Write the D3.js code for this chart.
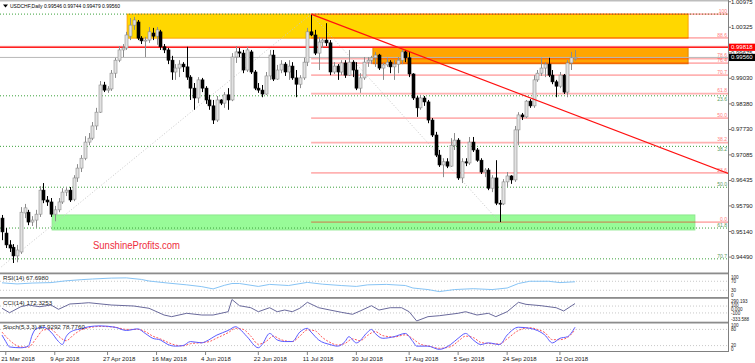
<!DOCTYPE html>
<html>
<head>
<meta charset="utf-8">
<script src="https://d3js.org/d3.v7.min.js"></script>
<style>
  body { margin: 0; background: #fff; }
  svg { display: block; font-family: "Liberation Sans", Arial, sans-serif; }
</style>
</head>
<body>
<script>
// daily bars, index 0 = 20 Mar 2018 ... 152 = 18 Oct 2018
var open = [0.9548,0.9510,0.9480,0.9474,0.9452,0.9462,0.9561,0.9563,0.9538,0.9543,
  0.9558,0.9619,0.9594,0.9589,0.9558,0.9569,0.9589,0.9614,0.9619,0.9596,
  0.9650,0.9675,0.9700,0.9741,0.9751,0.9782,0.9817,0.9886,0.9873,0.9876,
  0.9916,0.9949,0.9975,0.9980,1.0010,1.0038,1.0046,1.0005,0.9998,1.0000,
  1.0018,1.0010,1.0021,0.9983,0.9975,0.9949,0.9919,0.9929,0.9939,0.9932,
  0.9906,0.9878,0.9853,0.9899,0.9878,0.9848,0.9833,0.9797,0.9848,0.9840,
  0.9861,0.9848,0.9957,0.9970,0.9967,0.9924,0.9970,0.9919,0.9878,0.9873,
  0.9863,0.9909,0.9962,0.9901,0.9924,0.9939,0.9919,0.9934,0.9904,0.9888,
  0.9904,0.9944,1.0021,1.0013,0.9967,0.9995,1.0000,0.9993,0.9919,0.9934,
  0.9919,0.9942,0.9911,0.9944,0.9924,0.9878,0.9904,0.9944,0.9949,0.9955,
  0.9962,0.9929,0.9937,0.9944,0.9932,0.9939,0.9949,0.9970,0.9955,0.9914,
  0.9853,0.9828,0.9853,0.9843,0.9797,0.9759,0.9708,0.9683,0.9691,0.9680,
  0.9733,0.9746,0.9650,0.9691,0.9688,0.9741,0.9721,0.9695,0.9665,0.9670,
  0.9624,0.9650,0.9586,0.9584,0.9640,0.9655,0.9645,0.9772,0.9810,0.9805,
  0.9845,0.9833,0.9899,0.9916,0.9929,0.9939,0.9911,0.9894,0.9883,0.9911,
  0.9868,0.9942,0.99546];
var high = [0.9556,0.9523,0.9492,0.9482,0.9480,0.9576,0.9584,0.9569,0.9553,0.9569,
  0.9629,0.9637,0.9604,0.9599,0.9579,0.9599,0.9624,0.9627,0.9627,0.9657,
  0.9685,0.9708,0.9756,0.9764,0.9792,0.9828,0.9896,0.9894,0.9883,0.9924,
  0.9955,0.9985,0.9990,1.0021,1.0056,1.0059,1.0051,1.0010,1.0008,1.0033,
  1.0031,1.0033,1.0026,0.9990,0.9980,0.9960,0.9939,0.9949,0.9944,0.9983,
  0.9911,0.9891,0.9906,0.9904,0.9883,0.9861,0.9848,0.9858,0.9850,0.9868,
  0.9878,0.9967,0.9985,0.9980,0.9975,0.9983,0.9975,0.9924,0.9891,0.9886,
  0.9919,0.9975,0.9975,0.9937,0.9949,0.9944,0.9949,0.9944,0.9924,0.9911,
  0.9955,1.0031,1.0066,1.0026,1.0008,1.0005,1.0043,1.0000,0.9944,0.9939,
  0.9949,0.9949,0.9975,0.9949,0.9944,0.9916,0.9957,0.9957,0.9960,0.9970,
  0.9965,0.9942,0.9955,0.9949,0.9949,0.9957,0.9975,0.9975,0.9970,0.9916,
  0.9858,0.9861,0.9858,0.9848,0.9802,0.9767,0.9721,0.9700,0.9700,0.9751,
  0.9764,0.9751,0.9700,0.9700,0.9754,0.9754,0.9726,0.9700,0.9675,0.9675,
  0.9657,0.9695,0.9594,0.9647,0.9665,0.9657,0.9782,0.9817,0.9815,0.9848,
  0.9850,0.9911,0.9924,0.9955,0.9944,0.9955,0.9924,0.9899,0.9919,0.9914,
  0.9949,0.9970,0.99744];
var low = [0.9492,0.9472,0.9462,0.9434,0.9436,0.9457,0.9548,0.9530,0.9528,0.9523,
  0.9551,0.9586,0.9579,0.9551,0.9540,0.9563,0.9584,0.9604,0.9589,0.9591,
  0.9640,0.9665,0.9695,0.9733,0.9746,0.9772,0.9815,0.9868,0.9866,0.9871,
  0.9904,0.9944,0.9957,0.9975,1.0000,1.0026,1.0000,0.9990,0.9957,0.9993,
  1.0000,0.9988,0.9975,0.9967,0.9939,0.9899,0.9899,0.9906,0.9919,0.9899,
  0.9848,0.9823,0.9840,0.9868,0.9838,0.9823,0.9787,0.9792,0.9835,0.9828,
  0.9823,0.9845,0.9942,0.9957,0.9916,0.9919,0.9914,0.9873,0.9866,0.9855,
  0.9861,0.9899,0.9896,0.9899,0.9916,0.9909,0.9899,0.9899,0.9855,0.9878,
  0.9899,0.9934,1.0010,0.9962,0.9924,0.9980,0.9985,0.9911,0.9914,0.9899,
  0.9911,0.9904,0.9909,0.9906,0.9873,0.9866,0.9899,0.9932,0.9939,0.9932,
  0.9924,0.9899,0.9932,0.9916,0.9899,0.9916,0.9939,0.9944,0.9906,0.9848,
  0.9805,0.9823,0.9833,0.9789,0.9754,0.9703,0.9678,0.9652,0.9675,0.9678,
  0.9721,0.9645,0.9637,0.9680,0.9683,0.9716,0.9691,0.9660,0.9652,0.9619,
  0.9614,0.9581,0.9538,0.9581,0.9627,0.9635,0.9640,0.9733,0.9797,0.9802,
  0.9828,0.9828,0.9894,0.9909,0.9906,0.9906,0.9888,0.9855,0.9878,0.9863,
  0.9855,0.9924,0.99479];
var close = [0.9513,0.9480,0.9472,0.9452,0.9467,0.9563,0.9574,0.9538,0.9543,0.9558,
  0.9619,0.9594,0.9589,0.9558,0.9569,0.9589,0.9614,0.9619,0.9594,0.9650,
  0.9675,0.9700,0.9741,0.9751,0.9782,0.9817,0.9886,0.9873,0.9876,0.9916,
  0.9949,0.9975,0.9980,1.0013,1.0038,1.0051,1.0005,0.9998,1.0000,1.0021,
  1.0010,1.0026,0.9983,0.9975,0.9949,0.9919,0.9929,0.9939,0.9932,0.9906,
  0.9878,0.9853,0.9899,0.9878,0.9848,0.9833,0.9797,0.9848,0.9840,0.9861,
  0.9848,0.9957,0.9970,0.9967,0.9924,0.9975,0.9919,0.9878,0.9873,0.9863,
  0.9909,0.9962,0.9901,0.9924,0.9939,0.9919,0.9934,0.9904,0.9888,0.9904,
  0.9944,1.0021,1.0013,0.9967,0.9995,1.0000,0.9993,0.9919,0.9934,0.9919,
  0.9942,0.9911,0.9944,0.9924,0.9878,0.9904,0.9944,0.9949,0.9955,0.9962,
  0.9929,0.9937,0.9944,0.9932,0.9939,0.9949,0.9970,0.9955,0.9914,0.9853,
  0.9828,0.9853,0.9843,0.9797,0.9759,0.9708,0.9683,0.9691,0.9680,0.9733,
  0.9746,0.9650,0.9691,0.9688,0.9741,0.9721,0.9695,0.9665,0.9670,0.9624,
  0.9650,0.9586,0.9584,0.9640,0.9655,0.9645,0.9772,0.9810,0.9805,0.9845,
  0.9833,0.9899,0.9916,0.9929,0.9939,0.9911,0.9894,0.9883,0.9911,0.9868,
  0.9942,0.9955,0.99560];

var dateIdx = [1, 14, 28, 41, 54, 68, 81, 94, 108, 121, 134, 148];
var dateLabels = ["21 Mar 2018", "9 Apr 2018", "27 Apr 2018", "16 May 2018", "4 Jun 2018", "22 Jun 2018",
  "11 Jul 2018", "30 Jul 2018", "17 Aug 2018", "5 Sep 2018", "24 Sep 2018", "12 Oct 2018"];
var priceTicks = [1.00975, 1.00325, 0.99675, 0.99030, 0.98380, 0.97730, 0.97085, 0.96435, 0.95790, 0.95140, 0.94490];

// indicator readings, [bar index, value]
var rsi = [[0,63],[4,58],[8,62],[13,64],[17,72],[21,77],[24,80],[29,84],[33,85],[37,78],[39,71],[44,62],
  [49,54],[53,46],[56,36],[59,52],[61,60],[63,60],[68,47],[71,56],[76,51],[81,65],[85,57],[90,51],[94,47],
  [97,54],[102,56],[107,51],[109,40],[113,33],[116,24],[120,33],[125,37],[130,33],[134,40],[137,60],
  [140,70],[145,70],[148,64],[152,67.698]];
var cci = [[0,35],[2,-93],[5,81],[7,130],[10,81],[13,130],[15,6],[18,160],[21,180],[23,197],[29,130],[35,101],
  [39,35],[43,-160],[45,-208],[49,-110],[53,-160],[56,-160],[60,-64],[61,290],[63,110],[66,52],[68,-64],
  [71,52],[73,-64],[75,-15],[77,-64],[79,35],[81,209],[84,52],[87,-15],[90,-81],[93,-139],[95,-43],[98,110],
  [100,-15],[103,52],[106,52],[108,-64],[110,-333],[113,-208],[116,-180],[121,-110],[123,-64],[126,-160],
  [129,-110],[131,-208],[134,-64],[137,209],[139,150],[143,110],[147,52],[149,-43],[152,172.3]];
var stochMain = [[0,59],[1,35],[2,15],[5,12],[7,18],[8,59],[9,82],[11,88],[13,70],[15,35],[16,24],[17,53],
  [19,76],[21,82],[23,90],[26,93],[30,88],[33,76],[36,82],[38,65],[40,47],[42,41],[44,24],[46,18],[48,20],
  [50,35],[53,30],[54,35],[57,59],[60,76],[62,90],[63,82],[65,53],[68,12],[69,24],[71,65],[73,41],[75,35],
  [77,35],[79,70],[81,84],[82,70],[84,41],[87,24],[89,18],[91,35],[92,53],[94,30],[97,70],[98,80],[99,65],
  [101,47],[104,53],[107,65],[109,35],[110,18],[113,18],[116,6],[119,24],[121,47],[123,65],[125,41],
  [127,24],[129,30],[132,24],[134,59],[137,88],[140,84],[142,76],[144,59],[146,30],[148,47],[150,53],[152,87.93]];
var stochSignal = [[0,70],[2,40],[5,15],[7,14],[9,45],[11,78],[13,80],[15,55],[17,38],[19,60],[21,78],[23,86],
  [26,91],[30,88],[33,80],[36,80],[38,72],[40,55],[42,45],[44,32],[46,22],[48,19],[50,27],[53,31],[55,35],
  [57,48],[60,68],[62,84],[64,80],[66,55],[68,25],[70,35],[72,55],[74,42],[77,35],[79,55],[81,78],[83,75],
  [85,50],[87,32],[89,22],[91,28],[93,45],[95,38],[97,58],[99,72],[101,57],[104,52],[107,60],[109,45],
  [111,25],[113,19],[116,10],[119,16],[121,36],[123,55],[125,50],[127,32],[129,28],[132,26],[134,45],
  [137,76],[140,86],[142,80],[144,68],[146,42],[148,42],[150,50],[152,78.78]];

// drawn objects
var zoneFrom = [33.2, 98.4, 13.3], zoneTo = [182, 182, 183.8];
var zoneTop = [1.0066, 0.99818, 0.9556], zoneBottom = [1.0005, 0.9940, 0.9518];
var zoneFill = ["#ffd700", "#ffa500", "#98fb98"], zoneStroke = ["#ffa500", "#e08a00", "#8fe88f"];
var redFib = [0, 23.6, 38.2, 50, 61.8, 70.7, 76.4, 78.6, 88.6, 100];
var redFibLow = 0.9538, redFibHigh = 1.0066, redFibFrom = 82, redFibLowIdx = 132;
var greenFib = [0, 23.6, 38.2, 50, 61.8, 70.7];
var greenFibHigh = 1.0066, greenFibLow = 0.9187, greenDiag = [[-2, 0.9410], [82, 1.0066]];
var trendIdx = [82, 193], trendPrice = [1.0066, 0.9660];
var resistance = 0.99818, lastPrice = 0.99560;

var W = 755, H = 363, axisX = 728;
var svg = d3.select("body").append("svg").attr("width", W).attr("height", H);

var x = d3.scaleLinear().domain([0, 152]).range([2, 575]);
var y = d3.scaleLinear().domain([0.94490, 1.00975]).range([257.1, 1.7]);

svg.append("clipPath").attr("id", "mainClip").append("rect")
  .attr("x", 0).attr("y", 0).attr("width", axisX).attr("height", 272);
var main = svg.append("g").attr("clip-path", "url(#mainClip)");

// boxes
zoneFill.forEach(function (f, i) {
  main.append("rect")
    .attr("x", x(zoneFrom[i])).attr("y", y(zoneTop[i]))
    .attr("width", x(zoneTo[i]) - x(zoneFrom[i]))
    .attr("height", y(zoneBottom[i]) - y(zoneTop[i]))
    .attr("fill", f).attr("stroke", zoneStroke[i]).attr("stroke-width", 1);
});

// green fib (dotted, full width)
greenFib.forEach(function (l) {
  var p = greenFibHigh - (greenFibHigh - greenFibLow) * l / 100;
  main.append("line").attr("x1", 0).attr("x2", axisX).attr("y1", y(p)).attr("y2", y(p))
    .attr("stroke", "#3aa03a").attr("stroke-width", 1).attr("stroke-dasharray", "1,2");
  if (l > 0) {
    // 23.6 and 38.2 sit right under red labels, so they go below their line
    var ty = (l === 23.6 || l === 38.2) ? y(p) + 5 : y(p) - 1;
    main.append("text").attr("x", axisX - 1).attr("y", ty).attr("text-anchor", "end")
      .attr("font-size", 5).attr("fill", "#5a9a5a").text(l.toFixed(1));
  }
});

// red fib
redFib.forEach(function (l) {
  var p = redFibLow + (redFibHigh - redFibLow) * l / 100;
  main.append("line").attr("x1", x(redFibFrom)).attr("x2", axisX).attr("y1", y(p)).attr("y2", y(p))
    .attr("stroke", "#ff0000").attr("stroke-opacity", 0.3).attr("stroke-width", 1.8);
  main.append("text").attr("x", axisX - 1).attr("y", y(p) - 1.3).attr("text-anchor", "end")
    .attr("font-size", 5).attr("fill", "#ff7b7b").text(l === 100 ? "100" : l.toFixed(1));
});

// fib diagonals
main.append("line")
  .attr("x1", x(greenDiag[0][0])).attr("y1", y(greenDiag[0][1]))
  .attr("x2", x(greenDiag[1][0])).attr("y2", y(greenDiag[1][1]))
  .attr("stroke", "#c8c8c8").attr("stroke-dasharray", "1,2");
main.append("line")
  .attr("x1", x(redFibFrom)).attr("y1", y(redFibHigh))
  .attr("x2", x(redFibLowIdx)).attr("y2", y(redFibLow))
  .attr("stroke", "#c8c8c8").attr("stroke-dasharray", "1,2");

// price lines
main.append("line").attr("x1", 0).attr("x2", axisX).attr("y1", y(lastPrice)).attr("y2", y(lastPrice))
  .attr("stroke", "#b8b8b8").attr("stroke-width", 1);
main.append("line").attr("x1", 0).attr("x2", axisX).attr("y1", y(resistance) - 1).attr("y2", y(resistance) - 1)
  .attr("stroke", "#ffb0b0").attr("stroke-width", 1);
main.append("line").attr("x1", 0).attr("x2", axisX).attr("y1", y(resistance)).attr("y2", y(resistance))
  .attr("stroke", "#ff2020").attr("stroke-width", 1.4);

// candles
var bars = d3.range(open.length);
var cg = main.append("g");
cg.selectAll("line.wick").data(bars).enter().append("line")
  .attr("x1", function (i) { return Math.round(x(i)) + 0.5; })
  .attr("x2", function (i) { return Math.round(x(i)) + 0.5; })
  .attr("y1", function (i) { return y(high[i]); })
  .attr("y2", function (i) { return y(low[i]); })
  .attr("stroke", function (i) { return close[i] >= open[i] ? "#8c8c8c" : "#000"; })
  .attr("stroke-width", 1);
cg.selectAll("rect.body").data(bars).enter().append("rect")
  .attr("x", function (i) { return Math.round(x(i)) - 1; })
  .attr("width", 3)
  .attr("y", function (i) { return y(Math.max(open[i], close[i])); })
  .attr("height", function (i) { return Math.max(1, Math.abs(y(open[i]) - y(close[i]))); })
  .attr("fill", function (i) { return close[i] >= open[i] ? "#e2e2e2" : "#000"; })
  .attr("stroke", function (i) { return close[i] >= open[i] ? "#8c8c8c" : "#000"; })
  .attr("stroke-width", 0.6);

// trend line
main.append("line")
  .attr("x1", x(trendIdx[0])).attr("y1", y(trendPrice[0]))
  .attr("x2", x(trendIdx[1])).attr("y2", y(trendPrice[1]))
  .attr("stroke", "#ff1010").attr("stroke-width", 1.3);

main.append("text").attr("x", 93).attr("y", 249).attr("font-size", 11)
  .attr("textLength", 87).attr("lengthAdjust", "spacingAndGlyphs")
  .attr("fill", "#ee2d3c").text("SunshineProfits.com");

// header
svg.append("path").attr("d", "M3,4.5 L8,4.5 L5.5,7.5 Z").attr("fill", "#000");
svg.append("text").attr("x", 10).attr("y", 8).attr("font-size", 6.2)
  .attr("textLength", 110).attr("lengthAdjust", "spacingAndGlyphs")
  .text("USDCHF,Daily  0.99546 0.99744 0.99479 0.99560");

// price axis
priceTicks.forEach(function (p) {
  svg.append("line").attr("x1", axisX).attr("x2", axisX + 3).attr("y1", y(p)).attr("y2", y(p)).attr("stroke", "#808080");
  svg.append("text").attr("x", axisX + 3).attr("y", y(p) + 2).attr("font-size", 6).attr("fill", "#222").text(p.toFixed(5));
});
[[resistance, "#ff0000"], [lastPrice, "#000"]].forEach(function (d) {
  svg.append("rect").attr("x", axisX + 1).attr("y", y(d[0]) - 3.6).attr("width", W - axisX - 1).attr("height", 7.2).attr("fill", d[1]);
  svg.append("text").attr("x", axisX + 3).attr("y", y(d[0]) + 2).attr("font-size", 6).attr("fill", "#fff").text(d[0].toFixed(5));
});

// indicator panes
var panes = [
  { top: 274.5, bottom: 297, domain: [0, 100], levels: [70, 30], labels: [100, 70, 30, 0], fmt: d3.format("d") },
  { top: 299.5, bottom: 321, domain: [-333.588, 290.193], levels: [100, -100], labels: [290.193, 100, 0, -100, -333.588],
    fmt: function (v) { return v === 0 ? "0.000" : (Math.abs(v) === 100 ? String(v) : v.toFixed(3)); } },
  { top: 324, bottom: 351, domain: [0, 100], levels: [80, 20], labels: [100, 80, 20, 0], fmt: d3.format("d") }
];
panes.forEach(function (p) {
  p.y = d3.scaleLinear().domain(p.domain).range([p.bottom, p.top]);
  p.levels.forEach(function (l) {
    svg.append("line").attr("x1", 0).attr("x2", axisX).attr("y1", p.y(l)).attr("y2", p.y(l))
      .attr("stroke", "#c8c8c8").attr("stroke-dasharray", "1,2");
  });
  // keep the cramped scale labels apart: clamp to the pane, then spread by a minimum gap
  var gap = 4.1;
  var ys = p.labels.map(function (l) { return Math.max(p.top + 4, Math.min(p.bottom - 0.3, p.y(l) + 2)); });
  for (var k = ys.length - 2; k >= 0; k--) ys[k] = Math.min(ys[k], ys[k + 1] - gap);
  for (var k2 = 1; k2 < ys.length; k2++) ys[k2] = Math.max(ys[k2], ys[k2 - 1] + gap);
  p.labels.forEach(function (l, k) {
    svg.append("text").attr("x", axisX + 3).attr("y", ys[k]).attr("font-size", 4.6).attr("fill", "#222").text(p.fmt(l));
  });
});

function drawLine(pane, data, color, dash, curve) {
  svg.append("path").datum(data)
    .attr("d", d3.line().x(function (d) { return x(d[0]); }).y(function (d) { return pane.y(d[1]); }).curve(curve))
    .attr("fill", "none").attr("stroke", color).attr("stroke-width", 1)
    .attr("stroke-dasharray", dash);
}
drawLine(panes[0], rsi, "#87c4f5", null, d3.curveLinear);
drawLine(panes[1], cci, "#6a6a9c", null, d3.curveLinear);
drawLine(panes[2], stochSignal, "#ff5a5a", "2,1.5", d3.curveMonotoneX);
drawLine(panes[2], stochMain, "#5a5aff", null, d3.curveMonotoneX);

var paneNames = ["RSI(14) 67.6980", "CCI(14) 172.3253", "Stoch(5,3,3) 87.9292 78.7760"];
panes.forEach(function (p, i) {
  svg.append("text").attr("x", 3).attr("y", p.top + 5).attr("font-size", 6.2).attr("fill", "#222").text(paneNames[i]);
});

// frame: top line, separators, axis lines
svg.append("rect").attr("x", 0).attr("y", 0).attr("width", axisX).attr("height", 1.5).attr("fill", "#bdbdbd");
[272.5, 297, 321.7].forEach(function (s) {
  svg.append("rect").attr("x", 0).attr("y", s).attr("width", axisX).attr("height", 1.8).attr("fill", "#8c8c8c");
});
svg.append("line").attr("x1", axisX + 0.5).attr("x2", axisX + 0.5).attr("y1", 0).attr("y2", 352).attr("stroke", "#808080");
svg.append("line").attr("x1", 0).attr("x2", axisX + 0.5).attr("y1", 351.5).attr("y2", 351.5).attr("stroke", "#808080");

// dates
dateIdx.forEach(function (d, i) {
  svg.append("line").attr("x1", x(d)).attr("x2", x(d)).attr("y1", 352).attr("y2", 355).attr("stroke", "#808080");
  svg.append("text").attr("x", x(d) - 4.5).attr("y", 360.5).attr("font-size", 6).attr("fill", "#222").text(dateLabels[i]);
});
</script>
</body>
</html>
